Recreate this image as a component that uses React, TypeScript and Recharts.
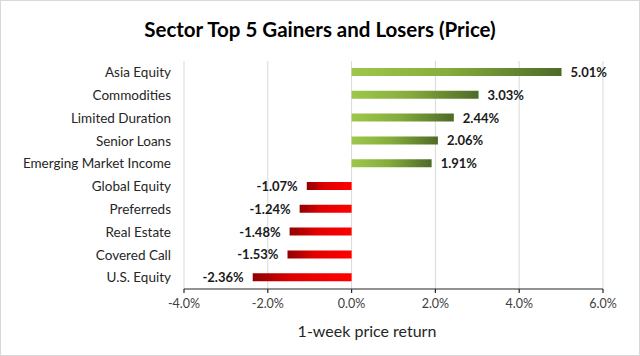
import React from 'react';
import { BarChart, Bar, XAxis, YAxis, CartesianGrid, Cell, LabelList } from 'recharts';

const categories = ['Asia Equity', 'Commodities', 'Limited Duration', 'Senior Loans', 'Emerging Market Income', 'Global Equity', 'Preferreds', 'Real Estate', 'Covered Call', 'U.S. Equity'];
const returns = [5.01, 3.03, 2.44, 2.06, 1.91, -1.07, -1.24, -1.48, -1.53, -2.36];
const xTicks = [-4, -2, 0, 2, 4, 6];

const data = categories.map((name, i) => ({ name, value: returns[i] }));

const FONT = 'Lato, "Open Sans", sans-serif';

const renderLabel = (props: any) => {
  const { x, y, width, height, value } = props;
  const left = Math.min(x, x + width);
  const right = Math.max(x, x + width);
  const cy = y + height / 2;
  const text = value.toFixed(2) + '%';
  if (value >= 0) {
    return (
      <text x={right + 9} y={cy} dy={5} textAnchor="start" fontFamily={FONT} fontWeight={700} fontSize={13} fill="#1a1a1a">
        {text}
      </text>
    );
  }
  return (
    <text x={left - 9} y={cy} dy={5} textAnchor="end" fontFamily={FONT} fontWeight={700} fontSize={13} fill="#1a1a1a">
      {text}
    </text>
  );
};

export default function App() {
  return (
    <div style={{ position: 'absolute', left: 0, top: 0, width: 640, height: 356, background: '#fff' }}>
      <div style={{ position: 'absolute', left: 0, top: 0, width: 638, height: 354, border: '1px solid #d9d9d9' }} />
      <div style={{ position: 'absolute', left: 0, top: 16, width: 640, textAlign: 'center', fontFamily: FONT, fontWeight: 700, fontSize: 20.5, lineHeight: '26px', color: '#000', whiteSpace: 'nowrap' }}>
        Sector Top 5 Gainers and Losers (Price)
      </div>
      <div style={{ position: 'absolute', left: 0, top: 0 }}>
        <BarChart width={640} height={356} data={data} layout="vertical" margin={{ top: 61, right: 37, bottom: 0, left: 0 }} barCategoryGap={0}>
          <defs>
            <linearGradient id="gGreen" x1="0" y1="0" x2="1" y2="0">
              <stop offset="0" stopColor="#9dc74a" />
              <stop offset="0.45" stopColor="#86ad3c" />
              <stop offset="1" stopColor="#4e6a28" />
            </linearGradient>
            <linearGradient id="gRed" x1="0" y1="0" x2="1" y2="0">
              <stop offset="0" stopColor="#8f0000" />
              <stop offset="0.4" stopColor="#e00000" />
              <stop offset="1" stopColor="#ff0000" />
            </linearGradient>
          </defs>
          <CartesianGrid horizontal={false} vertical stroke="#d9d9d9" />
          <XAxis
            type="number"
            domain={[-4, 6]}
            ticks={xTicks}
            tickFormatter={(v: number) => v.toFixed(1) + '%'}
            axisLine={{ stroke: '#262626', strokeWidth: 1.2 }}
            tickLine={{ stroke: '#262626', strokeWidth: 1.2 }}
            tickSize={4}
            tick={{ fontFamily: FONT, fontSize: 12.5, fill: '#404040' }}
            tickMargin={6}
            height={67}
          />
          <YAxis
            type="category"
            dataKey="name"
            width={184}
            axisLine={false}
            tickLine={false}
            tickMargin={7}
            tick={{ fontFamily: FONT, fontSize: 13.5, fill: '#262626' }}
            interval={0}
          />
          <Bar dataKey="value" barSize={8} isAnimationActive={false}>
            {data.map((d, i) => (
              <Cell key={i} fill={d.value >= 0 ? 'url(#gGreen)' : 'url(#gRed)'} />
            ))}
            <LabelList dataKey="value" content={renderLabel} />
          </Bar>
        </BarChart>
      </div>
      <div style={{ position: 'absolute', left: 267, top: 321, width: 200, textAlign: 'center', fontFamily: FONT, fontSize: 16, color: '#262626', whiteSpace: 'nowrap' }}>
        1-week price return
      </div>
    </div>
  );
}
